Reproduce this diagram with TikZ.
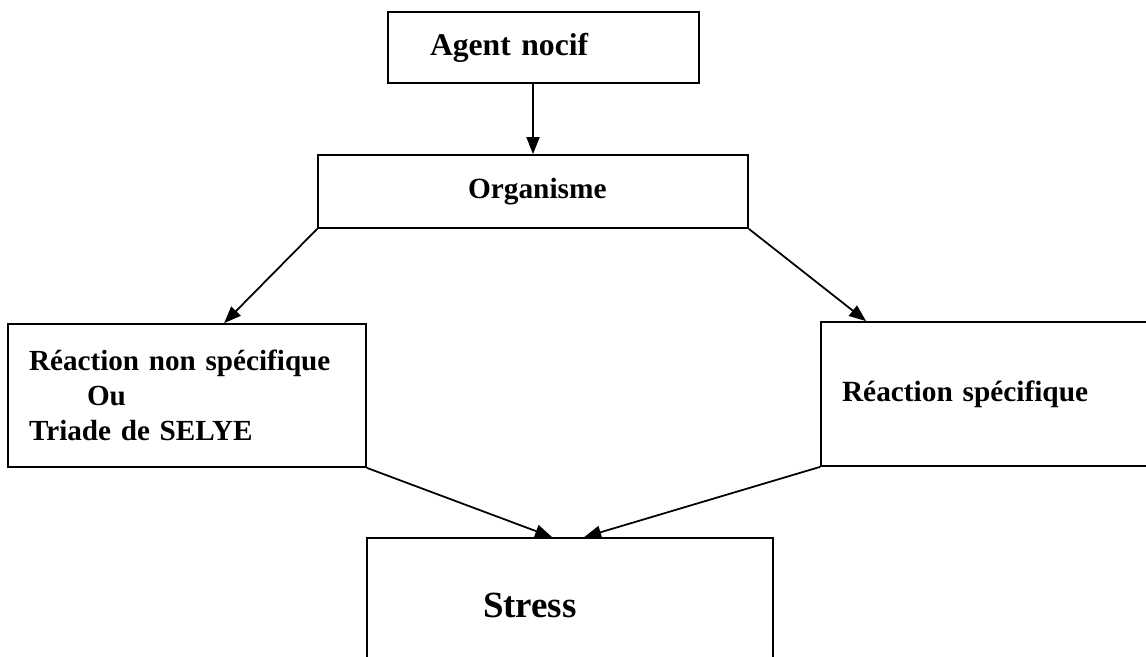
\documentclass[tikz,border=0pt]{standalone}
\usepackage{fontspec}
\setmainfont{Liberation Serif}
\usepackage{tikz}
\usetikzlibrary{shapes.geometric, arrows, arrows.meta}
\tikzstyle{arrow} = [line width=1pt,->,>={Triangle[length=0.34cm,width=0.26cm]}]
\tikzstyle{boxNode} = [
        rectangle,
        draw=black,
        line width=1pt,
        align=left,
        font=\bfseries
    ]

\begin{document}
\begin{tikzpicture}[x=0.02cm, y=-0.02cm]
    \clip (0,0) rectangle (1146,656);
    \node (agent) [boxNode, minimum width=6.22cm, minimum height=1.42cm, inner xsep=0.84cm, text width=4.54cm, font=\bfseries\fontsize{18}{21}\selectfont] at (543.5,47.5) {Agent nocif};
    \node (org) [boxNode, minimum width=8.6cm, minimum height=1.46cm, inner xsep=3cm, text width=2.6cm, font=\bfseries\fontsize{16.7}{20}\selectfont] at (533,191.5) {Organisme};
    \node (nonspec) [boxNode, minimum width=7.16cm, minimum height=2.86cm, inner xsep=0.42cm, text width=6.32cm, font=\bfseries\fontsize{16.6}{20}\selectfont] at (187,395.5) {R\'eaction non sp\'ecifique\\\hspace*{1.16cm}Ou\\Triade de SELYE};
    \node (spec) [boxNode, minimum width=6.98cm, minimum height=2.88cm, inner xsep=0.42cm, text width=6.14cm, font=\bfseries\fontsize{16.7}{20}\selectfont] at (995.5,394) {R\'eaction sp\'ecifique};
    \node (stress) [boxNode, minimum width=8.12cm, minimum height=2.68cm, inner xsep=2.32cm, text width=3.48cm, font=\bfseries\fontsize{21}{24}\selectfont] at (570,605) {Stress};

    \draw [arrow] (agent.south -| org.north) -- (org.north);
    \draw [arrow] (org.south west) -- ([xshift=4.34cm]nonspec.north west);
    \draw [arrow] (org.south east) -- ([xshift=0.92cm]spec.north west);
    \draw [arrow] (nonspec.south east) -- ([xshift=3.72cm]stress.north west);
    \draw [arrow] (spec.south west) -- ([xshift=4.36cm]stress.north west);
\end{tikzpicture}
\end{document}
